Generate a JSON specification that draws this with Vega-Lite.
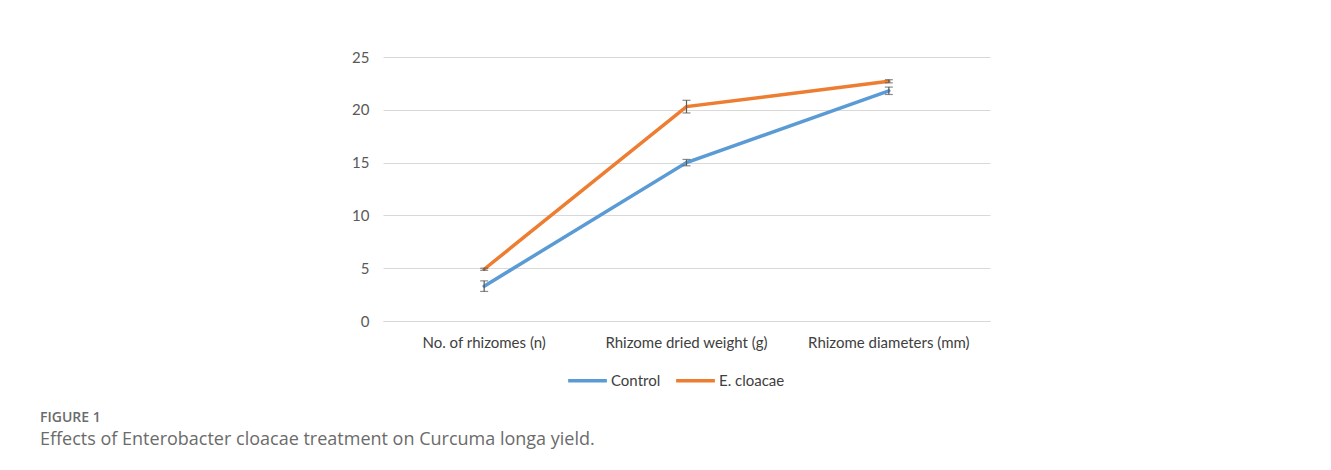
{
  "$schema": "https://vega.github.io/schema/vega-lite/v6.json",
  "autosize": {"type": "none"},
  "width": 607,
  "height": 264,
  "padding": {"left": 383, "top": 57, "right": 341, "bottom": 149},
  "background": "white",
  "config": {"view": {"stroke": null}},
  "title": {
    "text": "FIGURE 1",
    "subtitle": "Effects of Enterobacter cloacae treatment on Curcuma longa yield.",
    "orient": "bottom",
    "anchor": "start",
    "frame": "group",
    "dx": -343,
    "offset": 22,
    "font": "Open Sans",
    "fontSize": 14,
    "fontWeight": 600,
    "color": "#6b6b6b",
    "subtitleFont": "Open Sans",
    "subtitleFontSize": 18,
    "subtitleColor": "#6b6b6b",
    "subtitlePadding": 6
  },
  "data": {
    "values": [
      {"measure": "No. of rhizomes (n)", "group": "Control", "mean": 3.3, "lo": 2.8, "hi": 3.8},
      {"measure": "Rhizome dried weight (g)", "group": "Control", "mean": 15.0, "lo": 14.7, "hi": 15.3},
      {"measure": "Rhizome  diameters (mm)", "group": "Control", "mean": 21.8, "lo": 21.45, "hi": 22.15},
      {"measure": "No. of rhizomes (n)", "group": "E. cloacae", "mean": 4.9, "lo": 4.8, "hi": 5.0},
      {"measure": "Rhizome dried weight (g)", "group": "E. cloacae", "mean": 20.3, "lo": 19.7, "hi": 20.9},
      {"measure": "Rhizome  diameters (mm)", "group": "E. cloacae", "mean": 22.7, "lo": 22.55, "hi": 22.85}
    ]
  },
  "encoding": {
    "x": {
      "field": "measure",
      "type": "nominal",
      "sort": ["No. of rhizomes (n)", "Rhizome dried weight (g)", "Rhizome  diameters (mm)"],
      "scale": {"type": "band", "paddingInner": 0, "paddingOuter": 0},
      "axis": {
        "title": null,
        "labelAngle": 0,
        "labelFont": "Lato",
        "labelFontSize": 15,
        "labelColor": "#404040",
        "labelPadding": 14,
        "ticks": false,
        "domain": true,
        "domainColor": "#d9d9d9",
        "domainWidth": 1
      }
    }
  },
  "layer": [
    {
      "mark": {"type": "line", "strokeWidth": 3.5, "strokeCap": "round"},
      "encoding": {
        "y": {
          "field": "mean",
          "type": "quantitative",
          "scale": {"domain": [0, 25], "nice": false},
          "axis": {
            "title": null,
            "values": [0, 5, 10, 15, 20, 25],
            "labelFont": "Lato",
            "labelFontSize": 15,
            "labelColor": "#595959",
            "labelPadding": 14,
            "ticks": false,
            "domain": false,
            "gridColor": "#d9d9d9",
            "gridWidth": 1
          }
        },
        "color": {
          "field": "group",
          "type": "nominal",
          "scale": {"domain": ["Control", "E. cloacae"], "range": ["#5B9BD5", "#ED7D31"]},
          "legend": {
            "title": null,
            "orient": "none",
            "legendX": 183,
            "legendY": 302,
            "direction": "horizontal",
            "symbolType": "stroke",
            "symbolSize": 1500,
            "symbolStrokeWidth": 3.5,
            "labelFont": "Lato",
            "labelFontSize": 15,
            "labelColor": "#404040",
            "labelOffset": 2,
            "columnPadding": 8
          }
        }
      }
    },
    {
      "mark": {"type": "rule", "color": "#595959", "strokeWidth": 1.2},
      "encoding": {
        "y": {"field": "lo", "type": "quantitative"},
        "y2": {"field": "hi"}
      }
    },
    {
      "mark": {"type": "tick", "color": "#595959", "size": 8, "thickness": 1.2},
      "encoding": {"y": {"field": "lo", "type": "quantitative"}}
    },
    {
      "mark": {"type": "tick", "color": "#595959", "size": 8, "thickness": 1.2},
      "encoding": {"y": {"field": "hi", "type": "quantitative"}}
    }
  ]
}
